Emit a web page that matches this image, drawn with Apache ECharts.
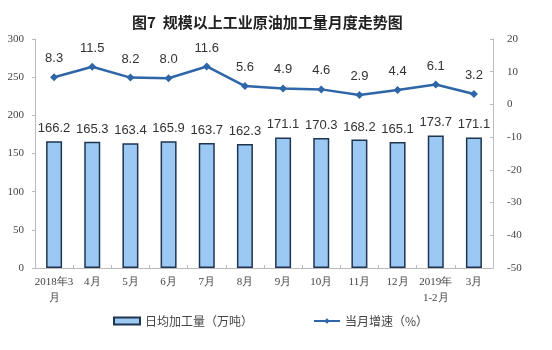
<!DOCTYPE html>
<html>
<head>
<meta charset="utf-8">
<script src="https://cdn.jsdelivr.net/npm/echarts@6/dist/echarts.min.js"></script>
<style>
  html, body { margin: 0; padding: 0; background: #fff; }
  #chart { width: 552px; height: 350px; }
</style>
</head>
<body>
<div id="chart"></div>
<script>
// Monthly crude oil processing, March 2018 – March 2019
const months = ['2018年3\n月', '4月', '5月', '6月', '7月', '8月', '9月', '10月', '11月', '12月', '2019年\n1-2月', '3月'];
const dailyOutput = [166.2, 165.3, 163.4, 165.9, 163.7, 162.3, 171.1, 170.3, 168.2, 165.1, 173.7, 171.1];
const monthlyGrowth = [8.3, 11.5, 8.2, 8.0, 11.6, 5.6, 4.9, 4.6, 2.9, 4.4, 6.1, 3.2];

const chart = echarts.init(document.getElementById('chart'));
const axisFont = { fontFamily: 'Liberation Serif', fontSize: 11, color: '#444' };

chart.setOption({
  animation: false,
  backgroundColor: '#fff',
  title: {
    text: '图7  规模以上工业原油加工量月度走势图',
    left: 127,
    top: 10,
    textStyle: { fontFamily: 'Noto Sans CJK SC', fontSize: 15, fontWeight: 'bold', color: '#222' }
  },
  legend: {
    bottom: 18,
    left: 108,
    itemGap: 60,
    itemWidth: 26,
    itemHeight: 7,
    textStyle: { fontFamily: 'Noto Sans CJK SC', fontSize: 12, color: '#444' },
    data: [
      { name: '日均加工量（万吨）', icon: 'rect' },
      { name: '当月增速（%）' }
    ]
  },
  grid: { left: 35, right: 59, top: 39, bottom: 82 },
  xAxis: {
    type: 'category',
    data: months,
    axisLine: { lineStyle: { color: '#bbb' } },
    axisTick: { show: true, inside: true, length: 3, lineStyle: { color: '#bbb' } },
    axisLabel: Object.assign({ margin: 6, lineHeight: 16, interval: 0 }, axisFont)
  },
  yAxis: [
    {
      type: 'value', min: 0, max: 300, interval: 50,
      axisLine: { show: true, lineStyle: { color: '#bbb' } },
      axisTick: { show: true, length: 3, lineStyle: { color: '#bbb' } },
      splitLine: { show: false },
      axisLabel: Object.assign({ margin: 11 }, axisFont)
    },
    {
      type: 'value', min: -50, max: 20, interval: 10,
      axisLine: { show: true, lineStyle: { color: '#bbb' } },
      axisTick: { show: true, inside: true, length: 3, lineStyle: { color: '#bbb' } },
      splitLine: { show: false },
      axisLabel: Object.assign({ margin: 14 }, axisFont)
    }
  ],
  series: [
    {
      name: '日均加工量（万吨）',
      type: 'bar',
      data: dailyOutput,
      barWidth: 16,
      itemStyle: { color: '#9cc8f4', borderColor: '#1e3550', borderWidth: 1.5 },
      label: {
        show: true, position: 'top', distance: 6,
        fontFamily: 'Liberation Sans', fontSize: 13, color: '#333'
      }
    },
    {
      name: '当月增速（%）',
      type: 'line',
      yAxisIndex: 1,
      data: monthlyGrowth,
      symbol: 'diamond',
      symbolSize: 8,
      lineStyle: { color: '#2f66a8', width: 2.5 },
      itemStyle: { color: '#2f66a8' },
      label: {
        show: true, position: 'top', distance: 8,
        fontFamily: 'Liberation Sans', fontSize: 13, color: '#333',
        formatter: p => p.value.toFixed(1)
      }
    }
  ]
});
</script>
</body>
</html>
